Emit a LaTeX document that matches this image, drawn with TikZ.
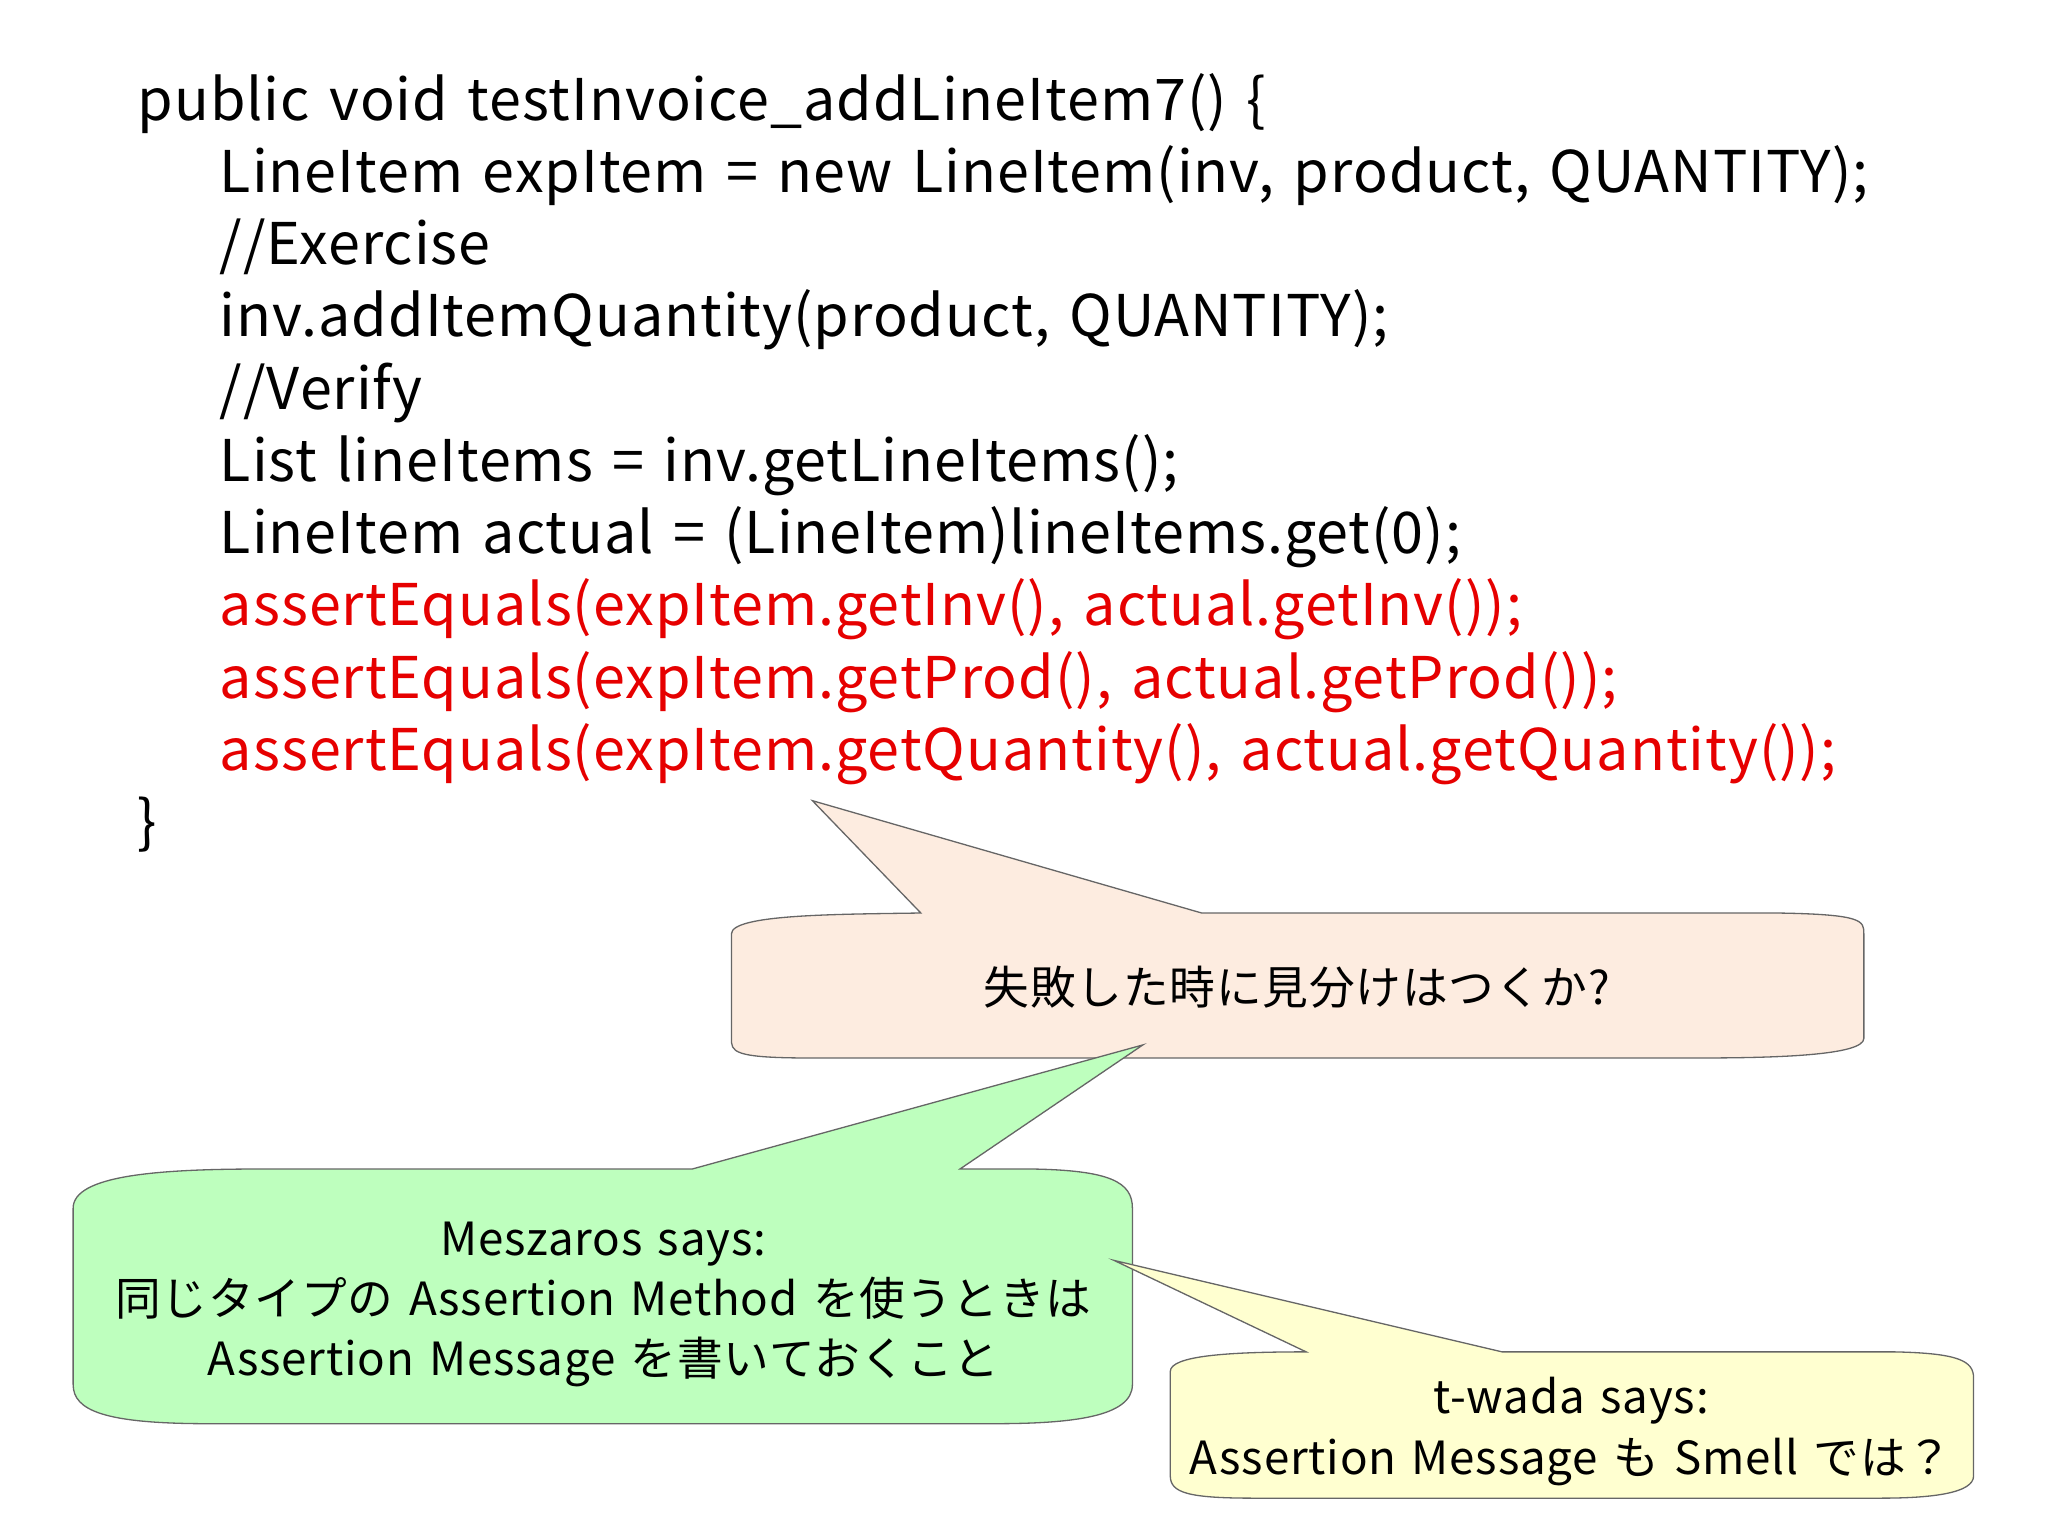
\documentclass[tikz,border=0pt]{standalone}
\usepackage{fontspec}
\setmainfont{Noto Sans CJK JP}[LetterSpace=1.7,WordSpace=1.4]
\begin{document}
\begin{tikzpicture}[x=0.5pt,y=-0.5pt,
  code/.style={anchor=base west,inner sep=0pt,font=\fontsize{22}{26}\selectfont},
  red code/.style={code,text={rgb,255:red,230;green,0;blue,0}},
  bub/.style={draw=gray!80!black,line width=0.5pt},
  btext/.style={align=center,inner sep=0pt,font=\fontsize{17.5}{23}\selectfont}]
\useasboundingbox (0,0) rectangle (1568,1175);
\node[code] (l1) at (105,92) {public void testInvoice\_addLineItem7() \{};
\node[code] (l2) at (168,147.3) {LineItem expItem = new LineItem(inv, product, QUANTITY);};
\node[code] (l3) at (168,202.6) {//Exercise};
\node[code] (l4) at (168,257.9) {inv.addItemQuantity(product, QUANTITY);};
\node[code] (l5) at (168,313.2) {//Verify};
\node[code] (l6) at (168,368.5) {List lineItems = inv.getLineItems();};
\node[code] (l7) at (168,423.8) {LineItem actual = (LineItem)lineItems.get(0);};
\node[red code] (l8) at (168,479.1) {assertEquals(expItem.getInv(), actual.getInv());};
\node[red code] (l9) at (168,534.4) {assertEquals(expItem.getProd(), actual.getProd());};
\node[red code] (l10) at (168,589.7) {assertEquals(expItem.getQuantity(), actual.getQuantity());};
\node[code] (l11) at (105,645) {\}};
% peach callout
\fill[bub,fill={rgb,255:red,253;green,236;blue,224}]
 (560,715) .. controls (560,700) and (640,700) .. (705,699) -- (622,613) -- (920,699)
 -- (1360,699) .. controls (1427,700) and (1427,705) .. (1427,715) -- (1427,795)
 .. controls (1427,808) and (1360,810) .. (1300,810) -- (620,810)
 .. controls (560,810) and (560,805) .. (560,795) -- cycle;
\node[btext] (t1) at (993,756) {失敗した時に見分けはつくか?};
% green callout
\fill[bub,fill={rgb,255:red,190;green,255;blue,190}]
 (56,925) .. controls (56,900) and (120,895) .. (200,895) -- (530,895) -- (875,800) -- (735,895)
 -- (790,895) .. controls (850,896) and (867,905) .. (867,925) -- (867,1060)
 .. controls (867,1085) and (820,1090) .. (760,1090) -- (160,1090)
 .. controls (80,1090) and (56,1080) .. (56,1060) -- cycle;
\node[btext] (t2) at (462,999) {Meszaros says:\\同じタイプの Assertion Method を使うときは\\Assertion Message を書いておくこと};
% yellow callout
\fill[bub,fill={rgb,255:red,255;green,255;blue,208}]
 (896,1050) .. controls (896,1038) and (940,1035) .. (1000,1035) -- (853,965) -- (1150,1035)
 -- (1450,1035) .. controls (1500,1036) and (1511,1042) .. (1511,1055) -- (1511,1130)
 .. controls (1511,1143) and (1480,1147) .. (1440,1147) -- (960,1147)
 .. controls (910,1147) and (896,1143) .. (896,1130) -- cycle;
\node[btext] (t3) at (1203,1096) {t-wada says:\\Assertion Message も Smell では？};
\end{tikzpicture}
\end{document}
